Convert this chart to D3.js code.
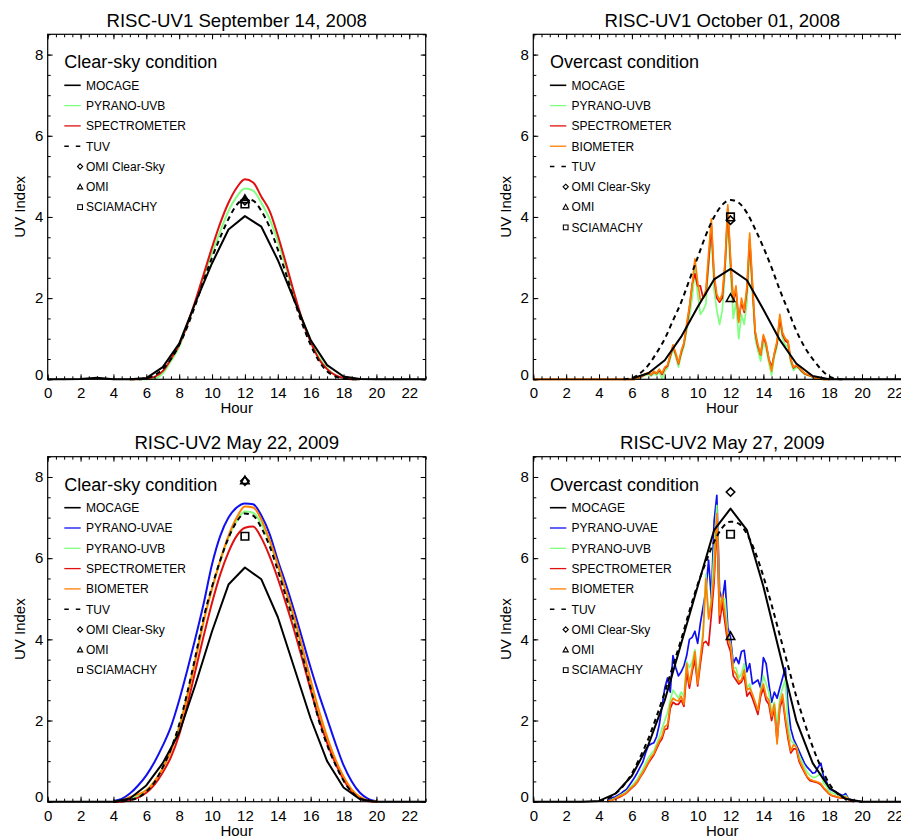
<!DOCTYPE html>
<html>
<head>
<meta charset="utf-8">
<script src="https://cdn.jsdelivr.net/npm/d3@7"></script>
<style>
  body { margin: 0; background: #fff; }
  svg { display: block; font-family: "Liberation Sans", Arial, Helvetica, sans-serif; }
</style>
</head>
<body>
<svg id="chart" width="901" height="837"></svg>
<script>
// ---------------- DATA ----------------
const titles = ["RISC-UV1 September 14, 2008", "RISC-UV1 October 01, 2008",
                "RISC-UV2 May 22, 2009", "RISC-UV2 May 27, 2009"];
const conditions = ["Clear-sky condition", "Overcast condition", "Clear-sky condition", "Overcast condition"];
const xTickLabels = [0, 2, 4, 6, 8, 10, 12, 14, 16, 18, 20, 22];
const yTickLabels = [0, 2, 4, 6, 8];

// MOCAGE hourly model values
const mocageHours = [0,1,2,3,4,5,6,7,8,9,10,11,12,13,14,15,16,17,18,19,20,21,22,23];
const mocage1 = [0,0,0.01,0.04,0,0,0.03,0.3,0.88,1.9,2.86,3.69,4.02,3.76,2.94,1.95,0.97,0.35,0.07,0.01,0,0,0,0];
const mocage2Hours = [6,7,8,9,10,11,12,13,14,15,16,17,18,19,20,21,22,23];
const mocage2 = [0.02,0.15,0.47,1.05,1.78,2.46,2.72,2.44,1.72,0.97,0.39,0.08,0,0,0,0,0,0];
const mocage3 = [0,0,0,0,0,0.08,0.4,0.95,1.7,2.9,4.2,5.35,5.77,5.48,4.55,3.3,2.05,1.0,0.35,0.06,0,0,0,0];
const mocage4 = [0,0,0,0,0.02,0.2,0.64,1.4,2.5,3.9,5.3,6.69,7.22,6.69,5.3,3.65,2.0,0.95,0.35,0.07,0,0,0,0];

// Panel 1 (half-hourly)
const hours1 = [5.0,5.5,6.0,6.5,7.0,7.5,8.0,8.5,9.0,9.5,10.0,10.5,11.0,11.5,12.0,12.5,13.0,13.5,14.0,14.5,15.0,15.5,16.0,16.5,17.0,17.5,18.0,18.5,19.0];
const spectro1 = [0,0,0.02,0.06,0.2,0.5,0.85,1.35,1.95,2.6,3.25,3.85,4.35,4.72,4.93,4.85,4.5,4.15,3.55,2.85,2.12,1.45,0.92,0.5,0.25,0.1,0.03,0,0];
const uvb1     = [0,0,0,0.02,0.15,0.45,0.8,1.35,1.9,2.55,3.1,3.65,4.15,4.5,4.7,4.65,4.35,3.95,3.4,2.75,2.05,1.45,0.95,0.55,0.27,0.1,0.02,0,0];
const tuv1     = [0,0,0.03,0.1,0.25,0.5,0.85,1.3,1.85,2.45,3.0,3.5,3.95,4.3,4.45,4.4,4.15,3.75,3.2,2.6,1.95,1.35,0.85,0.45,0.2,0.07,0.02,0,0];

// Panel 2 (10-minute, minutes of day)
const minutes2 = [0,360,370,380,390,400,410,420,430,440,450,460,470,480,490,500,510,520,530,540,550,560,570,580,590,600,610,620,630,640,650,660,670,680,690,700,710,720,730,740,750,760,770,780,790,800,810,820,830,840,850,860,870,880,890,900,910,920,930,940,950,960,970,980,990,1000,1010,1020,1030,1040,1050,1060,1070,1080];
const uvb2 = [0,0,0,0.01,0.04,0.07,0.1,0.12,0.08,0.14,0.1,0.18,0,0.2,0.28,0.5,0.75,0.55,0.3,0.6,0.8,1.2,1.55,2.0,2.7,2.1,1.6,1.7,1.85,2.8,3.6,2.2,1.7,1.35,1.7,2.6,3.9,2.6,1.5,1.9,1.0,1.6,1.35,1.9,3.2,2.1,1.0,0.7,0.45,0.9,0.75,0.4,0.1,0.55,0.8,1.4,1.0,0.85,0.8,0.4,0.22,0.3,0.25,0.18,0.12,0.1,0.08,0.05,0.02,0.01,0,0,0,0];
const spectro2 = [0,0,0,0.02,0.05,0.09,0.13,0.15,0.11,0.18,0.14,0.22,0.12,0.27,0.33,0.57,0.8,0.62,0.38,0.66,0.88,1.3,1.75,2.35,2.6,2.3,2.3,2.0,2.1,2.9,3.8,2.5,2.0,1.9,2.0,2.8,4.2,2.9,1.9,2.2,1.45,1.9,1.65,2.2,3.45,2.3,1.15,0.8,0.6,1.05,0.85,0.5,0.3,0.62,0.9,1.5,1.1,0.95,0.9,0.48,0.28,0.33,0.28,0.2,0.14,0.11,0.09,0.06,0.03,0.02,0.01,0,0,0];
const bio2 = [0,0,0,0.02,0.06,0.1,0.14,0.16,0.12,0.2,0.15,0.25,0.15,0.3,0.35,0.6,0.85,0.65,0.4,0.7,0.9,1.38,1.8,2.3,2.97,2.4,1.95,2.0,2.2,3.1,3.95,2.6,2.1,1.95,2.1,2.9,4.3,3.0,1.95,2.3,1.4,2.0,1.7,2.3,3.6,2.4,1.2,0.85,0.6,1.1,0.9,0.5,0.2,0.65,0.95,1.6,1.15,1.0,0.95,0.5,0.3,0.35,0.3,0.22,0.15,0.12,0.1,0.06,0.03,0.02,0.01,0,0,0];
const hoursTuv = [5.5,6.0,6.5,7.0,7.5,8.0,8.5,9.0,9.5,10.0,10.5,11.0,11.5,12.0,12.5,13.0,13.5,14.0,14.5,15.0,15.5,16.0,16.5,17.0,17.5,18.0,18.5,19.0];
const tuv2 = [0,0.03,0.15,0.35,0.65,1.0,1.45,1.9,2.45,3.0,3.55,4.0,4.3,4.42,4.35,4.1,3.7,3.25,2.75,2.2,1.7,1.2,0.8,0.5,0.25,0.07,0.01,0];

// Panel 3 (half-hourly)
const hours3 = [4.0,4.5,5.0,5.5,6.0,6.5,7.0,7.5,8.0,8.5,9.0,9.5,10.0,10.5,11.0,11.5,12.0,12.5,13.0,13.5,14.0,14.5,15.0,15.5,16.0,16.5,17.0,17.5,18.0,18.5,19.0,19.5,20.0];
const uvae3    = [0.02,0.07,0.2,0.4,0.65,0.98,1.38,1.85,2.5,3.25,4.05,4.9,5.85,6.55,7.0,7.25,7.35,7.33,7.05,6.6,5.95,5.35,4.7,4.0,3.3,2.65,2.05,1.45,0.9,0.5,0.22,0.07,0.01];
const uvb3     = [0,0.01,0.06,0.14,0.28,0.5,0.84,1.28,1.86,2.65,3.55,4.5,5.25,5.92,6.5,6.92,7.15,7.12,6.85,6.4,5.8,5.15,4.45,3.7,2.9,2.15,1.52,1.0,0.58,0.28,0.1,0.02,0];
const spectro3 = [0,0,0.04,0.1,0.22,0.42,0.72,1.1,1.65,2.4,3.25,4.1,4.9,5.6,6.15,6.55,6.75,6.78,6.5,6.05,5.5,4.88,4.22,3.5,2.75,2.05,1.45,0.95,0.55,0.25,0.08,0.01,0];
const bio3     = [0,0.02,0.12,0.18,0.28,0.5,0.82,1.25,1.82,2.6,3.5,4.45,5.25,5.95,6.55,7.0,7.27,7.25,6.95,6.45,5.85,5.2,4.55,3.8,3.0,2.25,1.6,1.05,0.62,0.3,0.12,0.03,0];
const tuv3     = [0,0.01,0.04,0.1,0.25,0.48,0.85,1.3,1.9,2.7,3.6,4.55,5.3,5.95,6.5,6.9,7.1,7.05,6.75,6.3,5.7,5.05,4.4,3.6,2.8,2.0,1.4,0.92,0.52,0.24,0.08,0.02,0];

// Panel 4 (10-minute, minutes of day)
const minutes4 = [270,280,290,300,310,320,330,340,350,360,370,380,390,400,410,420,430,440,450,460,470,480,490,500,510,520,530,540,550,560,570,580,590,600,610,620,630,640,650,660,670,680,690,700,710,720,730,740,750,760,770,780,790,800,810,820,830,840,850,860,870,880,890,900,910,920,930,940,950,960,970,980,990,1000,1010,1020,1030,1040,1050,1060,1070,1080,1090,1100,1110,1120,1130,1140,1150,1160,1170];
const uvae4 = [0.02,0.05,0.1,0.12,0.16,0.2,0.26,0.3,0.4,0.5,0.6,0.72,0.85,0.98,1.2,1.38,1.42,1.45,1.6,1.9,2.35,2.8,3.05,2.7,3.6,3.3,3.1,3.2,3.35,3.6,4.0,4.05,4.2,3.9,4.4,4.8,5.2,5.95,5.0,6.9,7.55,5.2,4.95,5.45,4.3,4.05,3.4,3.55,3.4,3.7,3.73,3.2,3.4,2.9,2.95,3.0,2.8,3.55,3.4,2.9,2.45,2.7,2.55,2.8,3.05,3.3,2.35,1.8,1.55,1.4,1.25,1.1,0.95,0.85,0.78,0.7,0.72,0.85,0.95,0.6,0.5,0.32,0.28,0.25,0.22,0.18,0.15,0.2,0.08,0.04,0];
const uvb4  = [0.01,0.03,0.06,0.09,0.13,0.17,0.2,0.25,0.33,0.4,0.47,0.56,0.68,0.8,0.95,1.08,1.18,1.25,1.42,1.6,1.8,2.0,2.2,2.5,2.75,2.65,2.55,2.7,2.6,3.45,3.3,3.45,3.75,3.1,3.5,4.25,5.6,4.55,5.0,6.2,7.3,4.9,5.0,5.0,4.1,3.9,3.3,3.3,3.05,3.15,3.4,2.8,2.9,2.6,2.45,2.2,2.75,3.1,2.9,2.7,2.2,2.45,1.9,2.55,2.8,3.0,1.9,1.5,1.45,1.35,1.15,1.0,0.85,0.72,0.65,0.6,0.6,0.65,0.7,0.45,0.38,0.26,0.22,0.2,0.18,0.14,0.12,0.15,0.07,0.03,0];
const spectro4 = [0,0.02,0.04,0.07,0.1,0.13,0.17,0.21,0.28,0.34,0.4,0.48,0.6,0.7,0.82,0.95,1.05,1.15,1.3,1.45,1.55,1.78,1.8,2.3,2.45,2.4,2.4,2.5,2.35,3.2,2.8,3.2,3.5,2.85,3.4,3.9,3.95,3.85,4.6,5.4,6.9,4.4,4.9,4.4,3.9,3.7,3.1,3.0,2.9,2.95,3.1,2.6,2.7,2.55,2.35,2.15,2.6,2.8,2.5,2.4,2.0,2.3,1.5,2.3,2.55,2.0,1.55,1.2,1.3,1.3,1.0,0.85,0.72,0.6,0.52,0.5,0.48,0.46,0.42,0.33,0.26,0.19,0.15,0.13,0.11,0.09,0.09,0.1,0.05,0.02,0];
const bio4  = [0,0.02,0.05,0.08,0.12,0.15,0.18,0.22,0.3,0.36,0.42,0.5,0.62,0.72,0.85,0.98,1.1,1.18,1.35,1.5,1.62,1.85,1.9,2.4,2.55,2.5,2.48,2.6,2.4,3.4,2.9,3.3,3.7,2.9,3.55,4.1,5.5,4.5,4.9,5.6,7.1,4.6,5.1,4.6,4.05,3.85,3.25,3.15,2.95,3.0,3.25,2.75,2.8,2.65,2.45,2.25,2.7,2.9,2.6,2.5,2.1,2.4,1.42,2.4,2.65,2.1,1.65,1.25,1.4,1.35,1.05,0.9,0.75,0.62,0.55,0.52,0.5,0.48,0.44,0.35,0.28,0.2,0.16,0.14,0.12,0.1,0.1,0.12,0.06,0.03,0];
const hoursTuv4 = [4.0,4.5,5.0,5.5,6.0,6.5,7.0,7.5,8.0,8.5,9.0,9.5,10.0,10.5,11.0,11.5,12.0,12.5,13.0,13.5,14.0,14.5,15.0,15.5,16.0,16.5,17.0,17.5,18.0,18.5,19.0,19.5,20.0];
const tuv4 = [0.02,0.07,0.2,0.4,0.7,1.1,1.55,2.1,2.7,3.35,4.0,4.7,5.35,5.9,6.4,6.75,6.9,6.85,6.6,6.15,5.55,4.85,4.1,3.35,2.6,1.95,1.35,0.85,0.45,0.2,0.07,0.02,0];

// Satellite values at local noon: [OMI Clear-Sky, OMI, SCIAMACHY]
const satHour = 12;
const omiClear = [4.40, 3.92, 7.90, 7.63];
const omi      = [4.44, 2.00, 7.92, 4.08];
const sciamachy= [4.32, 4.00, 6.54, 6.59];

// ---------------- STYLE ----------------
const COL = { black: "#000", green: "#80ff80", red: "#e01010", orange: "#ff7f00", blue: "#1010ee" };

// ---------------- BUILD ----------------
const zip = (xs, ys, f) => xs.map((t, i) => [f ? f(t) : t, ys[i]]);
const mins = m => m / 60;

const panels = [
  { series: [
      { d: zip(hours1, uvb1), c: COL.green, w: 2, curve: true },
      { d: zip(hours1, spectro1), c: COL.red, w: 2, curve: true },
    ],
    mocage: zip(mocageHours, mocage1), tuv: zip(hours1, tuv1),
    legend: [["MOCAGE","line",COL.black],["PYRANO-UVB","line",COL.green],["SPECTROMETER","line",COL.red],["TUV","dash"]] },
  { series: [
      { d: zip(minutes2, uvb2, mins), c: COL.green, w: 1.7 },
      { d: zip(minutes2, spectro2, mins), c: COL.red, w: 1.7 },
      { d: zip(minutes2, bio2, mins), c: COL.orange, w: 1.7 },
    ],
    mocage: zip(mocage2Hours, mocage2), tuv: zip(hoursTuv, tuv2),
    legend: [["MOCAGE","line",COL.black],["PYRANO-UVB","line",COL.green],["SPECTROMETER","line",COL.red],["BIOMETER","line",COL.orange],["TUV","dash"]] },
  { series: [
      { d: zip(hours3, uvae3), c: COL.blue, w: 2, curve: true },
      { d: zip(hours3, uvb3), c: COL.green, w: 2, curve: true },
      { d: zip(hours3, spectro3), c: COL.red, w: 2, curve: true },
      { d: zip(hours3, bio3), c: COL.orange, w: 2, curve: true },
    ],
    mocage: zip(mocageHours, mocage3), tuv: zip(hours3, tuv3),
    legend: [["MOCAGE","line",COL.black],["PYRANO-UVAE","line",COL.blue],["PYRANO-UVB","line",COL.green],["SPECTROMETER","line",COL.red],["BIOMETER","line",COL.orange],["TUV","dash"]] },
  { series: [
      { d: zip(minutes4, uvae4, mins), c: COL.blue, w: 1.7 },
      { d: zip(minutes4, uvb4, mins), c: COL.green, w: 1.7 },
      { d: zip(minutes4, spectro4, mins), c: COL.red, w: 1.7 },
      { d: zip(minutes4, bio4, mins), c: COL.orange, w: 1.7 },
    ],
    mocage: zip(mocageHours, mocage4), tuv: zip(hoursTuv4, tuv4),
    legend: [["MOCAGE","line",COL.black],["PYRANO-UVAE","line",COL.blue],["PYRANO-UVB","line",COL.green],["SPECTROMETER","line",COL.red],["BIOMETER","line",COL.orange],["TUV","dash"]] },
];

const svg = d3.select("#chart");
const PW = 378, PH = 345;
const x = d3.scaleLinear().domain([0, 23]).range([0, PW]);
const y = d3.scaleLinear().domain([0, 8.5]).range([PH, 0]);

const lineLin = d3.line().x(d => x(d[0])).y(d => y(d[1]));
const lineSmooth = d3.line().x(d => x(d[0])).y(d => y(d[1])).curve(d3.curveMonotoneX);

function markerPath(type, r) {
  if (type === "diamond") return `M0,${-r}L${r},0L0,${r}L${-r},0Z`;
  if (type === "triangle") return `M0,${-r}L${r},${r*0.8}L${-r},${r*0.8}Z`;
  return `M${-r*0.9},${-r*0.9}H${r*0.9}V${r*0.9}H${-r*0.9}Z`;
}

const xMinor = d3.range(0, 23.01, 0.5);
const yMinor = d3.range(0, 8.51, 0.5);

panels.forEach((p, i) => {
  const col = i % 2, row = Math.floor(i / 2);
  const left = 47.7 + col * 485.6, top = 34.3 + row * 422.4;
  const g = svg.append("g").attr("transform", `translate(${left},${top})`);

  // measured series
  p.series.forEach(s => {
    g.append("path").attr("d", (s.curve ? lineSmooth : lineLin)(s.d))
      .attr("fill", "none").attr("stroke", s.c).attr("stroke-width", s.w)
      .attr("stroke-linejoin", "round");
  });
  // MOCAGE
  g.append("path").attr("d", lineLin(p.mocage)).attr("fill", "none")
    .attr("stroke", "#000").attr("stroke-width", 2).attr("stroke-linejoin", "round");
  // TUV
  g.append("path").attr("d", lineSmooth(p.tuv)).attr("fill", "none")
    .attr("stroke", "#000").attr("stroke-width", 2).attr("stroke-dasharray", "5,4");
  // satellite markers
  [["diamond", omiClear[i]], ["triangle", omi[i]], ["square", sciamachy[i]]].forEach(([t, v]) => {
    g.append("path").attr("d", markerPath(t, 4.2))
      .attr("transform", `translate(${x(satHour)},${y(v)})`)
      .attr("fill", "none").attr("stroke", "#000").attr("stroke-width", 1.6);
  });

  // frame
  g.append("rect").attr("width", PW).attr("height", PH).attr("fill", "none")
    .attr("stroke", "#000").attr("stroke-width", 1.2);

  const tickStyle = sel => { sel.select(".domain").remove(); sel.selectAll("line").attr("stroke", "#000"); };
  // bottom axis
  const bx = g.append("g").attr("transform", `translate(0,${PH})`)
    .call(d3.axisBottom(x).tickValues(xTickLabels).tickFormat(d3.format("d")).tickSizeInner(-5).tickSizeOuter(0).tickPadding(8.3));
  tickStyle(bx);
  bx.selectAll("text").attr("font-size", 15).attr("fill", "#000").attr("font-family", null);
  const bxm = g.append("g").attr("transform", `translate(0,${PH})`)
    .call(d3.axisBottom(x).tickValues(xMinor).tickFormat("").tickSizeInner(-3).tickSizeOuter(0));
  tickStyle(bxm);
  // top axis
  const tx = g.append("g").call(d3.axisTop(x).tickValues(xTickLabels).tickFormat("").tickSizeInner(-5).tickSizeOuter(0));
  tickStyle(tx);
  const txm = g.append("g").call(d3.axisTop(x).tickValues(xMinor).tickFormat("").tickSizeInner(-3).tickSizeOuter(0));
  tickStyle(txm);
  // left axis
  const ly = g.append("g").call(d3.axisLeft(y).tickValues(yTickLabels).tickFormat(d3.format("d")).tickSizeInner(-5).tickSizeOuter(0).tickPadding(4.4));
  tickStyle(ly);
  ly.selectAll("text").attr("font-size", 15).attr("fill", "#000").attr("font-family", null);
  ly.selectAll(".tick").filter(d => d === 0).select("text").attr("y", -4.6);
  const lym = g.append("g").call(d3.axisLeft(y).tickValues(yMinor).tickFormat("").tickSizeInner(-3).tickSizeOuter(0));
  tickStyle(lym);
  // right axis
  const ry = g.append("g").attr("transform", `translate(${PW},0)`)
    .call(d3.axisRight(y).tickValues(yTickLabels).tickFormat("").tickSizeInner(-5).tickSizeOuter(0));
  tickStyle(ry);
  const rym = g.append("g").attr("transform", `translate(${PW},0)`)
    .call(d3.axisRight(y).tickValues(yMinor).tickFormat("").tickSizeInner(-3).tickSizeOuter(0));
  tickStyle(rym);

  // axis titles
  g.append("text").attr("x", PW / 2).attr("y", PH + 34).attr("text-anchor", "middle")
    .attr("font-size", 15).text("Hour");
  g.append("text").attr("transform", `translate(-22.7,${PH / 2}) rotate(-90)`)
    .attr("text-anchor", "middle").attr("font-size", 15).text("UV Index");
  // title
  g.append("text").attr("x", PW / 2).attr("y", -7.3).attr("text-anchor", "middle")
    .attr("font-size", 18.6).text(titles[i]);

  // legend
  const lg = g.append("g");
  lg.append("text").attr("x", 16.6).attr("y", 34).attr("font-size", 18).text(conditions[i]);
  const items = p.legend.concat([["OMI Clear-Sky","diamond"],["OMI","triangle"],["SCIAMACHY","square"]]);
  items.forEach(([label, type, color], k) => {
    const cy = 51 + 20.3 * k;
    if (type === "line") {
      lg.append("line").attr("x1", 16.6).attr("x2", 33).attr("y1", cy).attr("y2", cy)
        .attr("stroke", color).attr("stroke-width", color === "#000" ? 1.6 : 1.3);
    } else if (type === "dash") {
      lg.append("line").attr("x1", 16.6).attr("x2", 33).attr("y1", cy).attr("y2", cy)
        .attr("stroke", "#000").attr("stroke-width", 1.6).attr("stroke-dasharray", "4.5,7");
    } else {
      lg.append("path").attr("d", markerPath(type, 2.6))
        .attr("transform", `translate(32.4,${cy})`)
        .attr("fill", "none").attr("stroke", "#000").attr("stroke-width", 1.1);
    }
    lg.append("text").attr("x", 38.3).attr("y", cy + 4.4).attr("font-size", 12).text(label);
  });
});
</script>
</body>
</html>
